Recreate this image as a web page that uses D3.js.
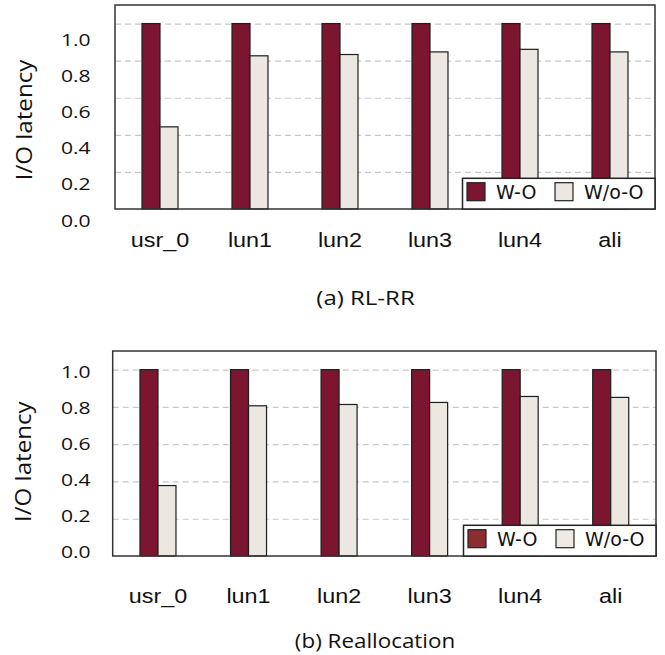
<!DOCTYPE html>
<html>
<head>
<meta charset="utf-8">
<script src="https://cdn.jsdelivr.net/npm/d3@7"></script>
<style>
  html, body { margin: 0; padding: 0; background: #fff; }
  svg { display: block; }
</style>
</head>
<body>
<svg id="chart" width="665" height="655"></svg>
<script>
// ---------- data ----------
const categories = ["usr_0", "lun1", "lun2", "lun3", "lun4", "ali"];
const seriesNames = ["W-O", "W/o-O"];
const rlrrWithO = [1.0, 1.0, 1.0, 1.0, 1.0, 1.0];
const rlrrWithoutO = [0.443, 0.826, 0.833, 0.847, 0.861, 0.847];
const reallocWithO = [1.0, 1.0, 1.0, 1.0, 1.0, 1.0];
const reallocWithoutO = [0.378, 0.806, 0.813, 0.824, 0.856, 0.851];
const yTickValues = [0.0, 0.2, 0.4, 0.6, 0.8, 1.0];
const gridValues = [0.2, 0.4, 0.6, 0.8, 1.0];
const yAxisTitle = "I/O latency";
const panelTitles = ["(a) RL-RR", "(b) Reallocation"];

// ---------- style ----------
const barColors = ["#7B1530", "#ECE7E1"];
const legendColorsA = ["#7B1530", "#ECE7E1"];
const legendColorsB = ["#8C2D30", "#F0EAE5"];
const calibriLike = "'Open Sans', 'Noto Sans', sans-serif";
const arialLike = "'Liberation Sans', Arial, sans-serif";
const legendFont = "'DejaVu Sans', Verdana, sans-serif";

const svg = d3.select("#chart");

function drawPanel(cfg) {
  const g = svg.append("g");
  const rows = categories.map((c, i) => ({ cat: c, vals: [cfg.a[i], cfg.b[i]] }));

  const x0 = d3.scaleBand().domain(categories).range([cfg.left, cfg.right]);
  const bw = x0.bandwidth();
  const x1 = d3.scaleBand().domain(seriesNames).range([bw / 2 - 18, bw / 2 + 18]);
  const y = d3.scaleLinear().domain([0, 1.1]).range([cfg.bottom, cfg.top]);
  const yLab = d3.scaleLinear().domain([0, 1.0]).range(cfg.labelRange);

  g.append("rect")
    .attr("x", cfg.left).attr("y", cfg.top)
    .attr("width", cfg.right - cfg.left).attr("height", cfg.bottom - cfg.top)
    .attr("fill", "#fff");

  // gridlines
  const grid = g.append("g")
    .attr("transform", `translate(${cfg.left},0)`)
    .call(d3.axisLeft(y).tickValues(gridValues).tickSize(-(cfg.right - cfg.left)).tickFormat(""));
  grid.select(".domain").remove();
  grid.selectAll(".tick line")
    .attr("stroke", "#C8C8C8").attr("stroke-width", 1.2).attr("stroke-dasharray", "6,4");

  // bars
  const groups = g.selectAll(".grp").data(rows).join("g")
    .attr("transform", d => `translate(${x0(d.cat)},0)`);
  groups.selectAll("rect")
    .data(d => d.vals.map((v, k) => ({ s: seriesNames[k], v: v, k: k })))
    .join("rect")
    .attr("x", d => x1(d.s))
    .attr("y", d => y(d.v))
    .attr("width", x1.bandwidth())
    .attr("height", d => y(0) - y(d.v))
    .attr("fill", d => barColors[d.k])
    .attr("stroke", "#1e1e1e")
    .attr("stroke-width", 1.2);

  // frame
  g.append("rect")
    .attr("x", cfg.left).attr("y", cfg.top)
    .attr("width", cfg.right - cfg.left).attr("height", cfg.bottom - cfg.top)
    .attr("fill", "none").attr("stroke", "#333").attr("stroke-width", 1.5);

  // y tick labels
  const yax = g.append("g")
    .attr("transform", `translate(${cfg.tickRight},0)`)
    .call(d3.axisLeft(yLab).tickValues(yTickValues).tickSize(0).tickPadding(0).tickFormat(d3.format(".1f")));
  yax.select(".domain").remove();
  yax.selectAll("text")
    .attr("x", 0).attr("dy", null)
    .attr("dominant-baseline", "central")
    .attr("transform", "scale(1.28,1)")
    .style("font-family", calibriLike).style("font-size", "16.5px").style("font-weight", 500).attr("fill", "#111");

  // y axis title
  g.append("text")
    .attr("transform", `translate(${cfg.yTitleX},${cfg.yTitleY}) rotate(-90) scale(1.15,1)`)
    .attr("text-anchor", "middle")
    .style("font-family", calibriLike).style("font-size", "21px").style("font-weight", 500).attr("fill", "#111")
    .text(yAxisTitle);

  // x category labels
  const xax = g.append("g")
    .attr("transform", `translate(0,${cfg.catBaseline})`)
    .call(d3.axisBottom(x0).tickSize(0).tickPadding(0));
  xax.select(".domain").remove();
  xax.selectAll("text")
    .attr("y", 0).attr("dy", null)
    .attr("transform", "scale(1.2,1)")
    .style("font-family", arialLike).style("font-size", "19.5px").attr("fill", "#111");

  // panel title
  g.append("text")
    .attr("transform", `translate(${cfg.titleX},${cfg.titleY}) scale(${cfg.titleStretch},1)`)
    .attr("text-anchor", "middle").attr("dominant-baseline", "central")
    .style("font-family", calibriLike).style("font-size", "20px").style("font-weight", 500).attr("fill", "#111")
    .text(cfg.title);

  // legend
  const lg = g.append("g");
  lg.append("rect")
    .attr("x", cfg.right - 192.5).attr("y", cfg.bottom - 30.7)
    .attr("width", 192.5).attr("height", 30.7)
    .attr("fill", "#fff").attr("stroke", "#222").attr("stroke-width", 1.5);
  const itemX = [cfg.right - 188, cfg.right - 100];
  seriesNames.forEach((s, k) => {
    lg.append("rect")
      .attr("x", itemX[k]).attr("y", cfg.bottom - 26.3)
      .attr("width", 18).attr("height", 18)
      .attr("fill", cfg.legendColors[k]).attr("stroke", "#222").attr("stroke-width", 1.2);
    lg.append("text")
      .attr("x", itemX[k] + 29).attr("y", cfg.bottom - 9.7)
      .style("font-family", legendFont).style("font-size", "19px").attr("fill", "#111")
      .text(s);
  });
}

drawPanel({
  a: rlrrWithO, b: rlrrWithoutO,
  left: 115, right: 655, top: 5, bottom: 209,
  labelRange: [220, 39], tickRight: 90.7,
  yTitleX: 32, yTitleY: 120,
  catBaseline: 247.3,
  title: panelTitles[0], titleX: 365.5, titleY: 296.7, titleStretch: 1.2,
  legendColors: legendColorsA
});

drawPanel({
  a: reallocWithO, b: reallocWithoutO,
  left: 112.7, right: 656, top: 351, bottom: 556,
  labelRange: [551.7, 371.7], tickRight: 90.7,
  yTitleX: 30.5, yTitleY: 461.7,
  catBaseline: 603,
  title: panelTitles[1], titleX: 375, titleY: 640, titleStretch: 1.12,
  legendColors: legendColorsB
});
</script>
</body>
</html>
